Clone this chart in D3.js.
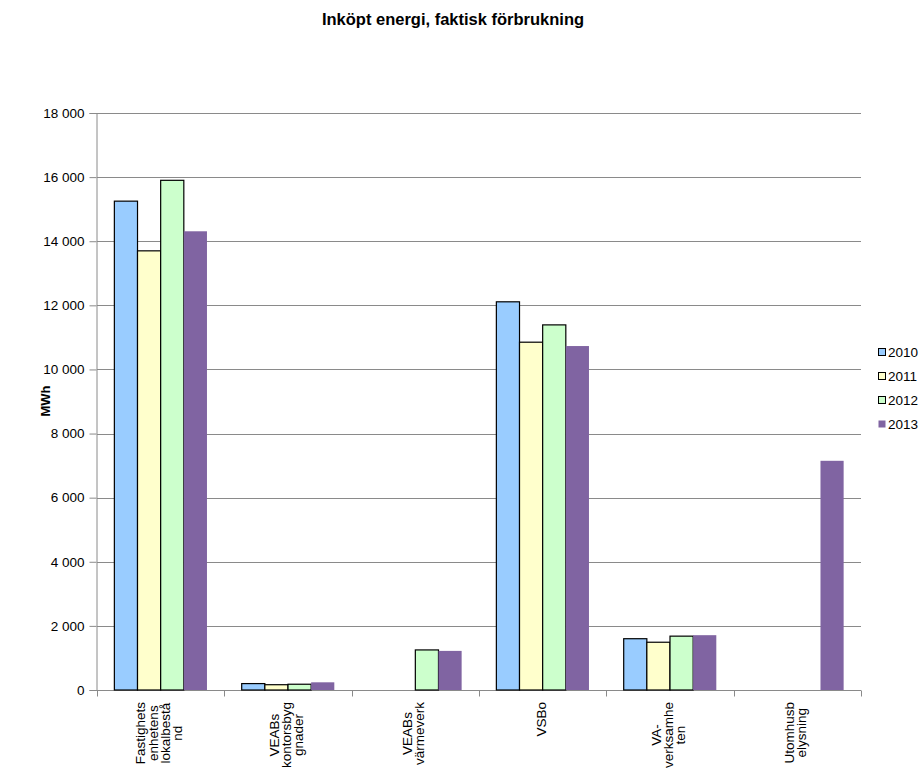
<!DOCTYPE html>
<html>
<head>
<meta charset="utf-8">
<script src="https://cdn.jsdelivr.net/npm/d3@7/dist/d3.min.js"></script>
<style>
  html, body { margin: 0; padding: 0; background: #fff; }
  svg { display: block; font-family: "Liberation Sans", Arial, sans-serif; }
</style>
</head>
<body>
<script>
const categories = [
  ["Fastighets", "enhetens", "lokalbestå", "nd"],
  ["VEABs", "kontorsbyg", "gnader"],
  ["VEABs", "värmeverk"],
  ["VSBo"],
  ["VA-", "verksamhe", "ten"],
  ["Utomhusb", "elysning"]
];
const years = ["2010", "2011", "2012", "2013"];
const v2010 = [15250, 200, null, 12110, 1600, null];
const v2011 = [13700, 165, null, 10850, 1490, null];
const v2012 = [15900, 180, 1250, 11390, 1680, null];
const v2013 = [14310, 240, 1220, 10730, 1710, 7150];
const yTicks = [0, 2000, 4000, 6000, 8000, 10000, 12000, 14000, 16000, 18000];
const title = "Inköpt energi, faktisk förbrukning";
const yLabel = "MWh";

const series = [v2010, v2011, v2012, v2013];
const colors = ["#99CCFF", "#FFFFCC", "#CCFFCC", "#8064A2"];
const strokes = ["#000", "#000", "#000", "none"];

const W = 921, H = 769;
const pLeft = 97, pRight = 861, pTop = 113, pBottom = 690;
const fs = 13.5;

const svg = d3.select("body").append("svg").attr("width", W).attr("height", H);

const x0 = d3.scaleBand().domain(d3.range(categories.length)).range([pLeft, pRight]).padding(0);
const x1 = d3.scaleBand().domain(years).range([0, x0.bandwidth()]).paddingInner(0).paddingOuter(0.75);
const y = d3.scaleLinear().domain([0, 18000]).range([pBottom, pTop]);

const fmt = d3.formatLocale({ decimal: ",", thousands: " ", grouping: [3], currency: ["", ""] }).format(",d");

// gridlines
svg.append("g").selectAll("line").data(yTicks.filter(d => d > 0)).join("line")
  .attr("x1", pLeft).attr("x2", pRight)
  .attr("y1", d => Math.round(y(d)) + 0.5).attr("y2", d => Math.round(y(d)) + 0.5)
  .attr("stroke", "#8a8a8a").attr("stroke-width", 1);

// y axis
const yAxis = svg.append("g").attr("transform", `translate(${pLeft - 0.5},0)`)
  .call(d3.axisLeft(y).tickValues(yTicks).tickFormat(fmt).tickSize(7).tickPadding(5));
yAxis.select(".domain").attr("stroke", "#8a8a8a");
yAxis.selectAll(".tick line").attr("stroke", "#8a8a8a");
yAxis.selectAll(".tick text").attr("font-size", fs).attr("fill", "#000")
  .attr("font-family", "Liberation Sans, Arial, sans-serif");

// x axis
const xAxisG = svg.append("g").attr("transform", `translate(0,${pBottom + 0.5})`);
xAxisG.append("line").attr("x1", pLeft - 0.5).attr("x2", pRight).attr("stroke", "#8a8a8a");
const bounds = d3.range(categories.length + 1).map(i => i < categories.length ? x0(i) : x0(i - 1) + x0.bandwidth());
xAxisG.selectAll("line.tk").data(bounds).join("line").attr("class", "tk")
  .attr("x1", d => Math.round(d) + 0.5).attr("x2", d => Math.round(d) + 0.5)
  .attr("y1", 0).attr("y2", 6).attr("stroke", "#8a8a8a");

// bars
const groups = svg.append("g").selectAll("g").data(categories.map((c, i) => i)).join("g")
  .attr("transform", i => `translate(${x0(i)},0)`);
groups.selectAll("rect").data(i => series.map((s, k) => ({ k, v: s[i] })).filter(d => d.v != null)).join("rect")
  .attr("x", d => x1(years[d.k]))
  .attr("width", x1.bandwidth())
  .attr("y", d => y(d.v))
  .attr("height", d => y(0) - y(d.v))
  .attr("fill", d => colors[d.k])
  .attr("stroke", d => strokes[d.k])
  .attr("stroke-width", 1.2);

// x labels (rotated, multi-line, centered lines, block anchored at axis)
const lineH = 12.2;
categories.forEach((lines, i) => {
  const cx = x0(i) + x0.bandwidth() / 2 - 2;
  const n = lines.length;
  const g = svg.append("g").attr("transform", `translate(${cx},${pBottom + 12}) rotate(-90)`);
  const tmp = g.append("text").attr("font-size", fs).text("");
  const tmpW = d3.max(lines.map(l => { tmp.text(l); return tmp.node().getComputedTextLength(); }));
  tmp.remove();
  lines.forEach((l, j) => {
    g.append("text")
      .attr("x", -tmpW / 2)
      .attr("y", (j - (n - 1) / 2) * lineH + 5)
      .attr("text-anchor", "middle")
      .attr("font-size", fs)
      .attr("fill", "#000")
      .text(l);
  });
});

// title
svg.append("text").attr("x", 453).attr("y", 25).attr("text-anchor", "middle")
  .attr("font-size", 16.5).attr("font-weight", "bold").text(title);

// y label
svg.append("text").attr("transform", `translate(50,401) rotate(-90)`).attr("text-anchor", "middle")
  .attr("font-size", 13).attr("font-weight", "bold").text(yLabel);

// legend
const leg = svg.append("g").attr("transform", "translate(878,352)");
years.forEach((yr, k) => {
  const g = leg.append("g").attr("transform", `translate(0,${k * 24})`);
  g.append("rect").attr("x", 0.5).attr("y", -3.5).attr("width", 7).attr("height", 7)
    .attr("fill", colors[k]).attr("stroke", strokes[k] === "none" ? "none" : "#000").attr("stroke-width", 1);
  g.append("text").attr("x", 10).attr("y", 5).attr("font-size", fs).text(yr);
});
</script>
</body>
</html>
